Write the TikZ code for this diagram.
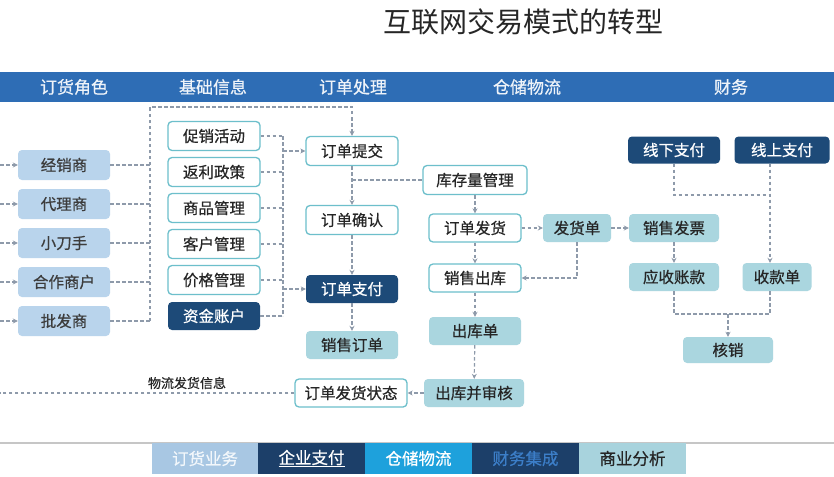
\documentclass[tikz,border=0pt]{standalone}
\usepackage{fontspec}
\setmainfont{Noto Sans CJK SC}[FakeBold=0.6]
\newfontfamily\plainfont{Noto Sans CJK SC}
\usetikzlibrary{arrows.meta}
\definecolor{hdr}{HTML}{2E6DB5}
\definecolor{rolefill}{HTML}{B9D4EC}
\definecolor{teal}{HTML}{6DBFCB}
\definecolor{navy}{HTML}{1D4A78}
\definecolor{tfill}{HTML}{AAD6DF}
\definecolor{dgray}{HTML}{8E9AAA}
\definecolor{txt}{HTML}{262626}
\definecolor{tabA}{HTML}{A8C7E3}
\definecolor{tabB}{HTML}{1C3F69}
\definecolor{tabC}{HTML}{1EA1DC}
\definecolor{tabE}{HTML}{A8D3DD}
\definecolor{tabDtxt}{HTML}{3C7EC8}
\begin{document}
\begin{tikzpicture}[x=1pt,y=-1pt,
  boxfont/.style={font=\fontsize{15.5}{17}\selectfont},
  base/.style={boxfont,inner sep=0pt,minimum height=30pt,text=txt},
  role/.style={base,fill=rolefill,rounded corners=4pt,minimum width=92pt,text=txt!90},
  wbox/.style={base,draw=teal,line width=1.3pt,fill=white,rounded corners=4pt,minimum width=92pt,minimum height=29pt},
  nbox/.style={base,fill=navy,text=white,rounded corners=4pt,minimum width=92pt,minimum height=28pt},
  tbox/.style={base,fill=tfill,rounded corners=4pt,minimum width=92pt,minimum height=28pt},
  hdrtxt/.style={font=\fontsize{17}{19}\selectfont,text=white!92!hdr},
  dl/.style={draw=dgray,line width=1.2pt,dash pattern=on 3.5pt off 2.5pt},
  arr/.style={dl,-{Stealth[length=5pt,width=5pt]}},
  tab/.style={font=\fontsize{16.5}{18}\selectfont,inner sep=0pt,outer sep=0pt,minimum height=31pt,minimum width=107pt}
]
\useasboundingbox (0,0) rectangle (834,476);
\fill[white] (0,0) rectangle (834,476);

% title
\node[text=txt,font=\plainfont\fontsize{28}{30}\selectfont] (title) at (523,22) {互联网交易模式的转型};

% header bar
\fill[hdr] (0,72) rectangle (834,102);
\node[hdrtxt] (h1) at (74,87) {订货角色};
\node[hdrtxt] (h2) at (213,87) {基础信息};
\node[hdrtxt] (h3) at (353,87) {订单处理};
\node[hdrtxt] (h4) at (527,87) {仓储物流};
\node[hdrtxt] (h5) at (731,87) {财务};

% roles
\node[role] (r1) at (64,165) {经销商};
\node[role] (r2) at (64,204) {代理商};
\node[role] (r3) at (64,243) {小刀手};
\node[role] (r4) at (64,282) {合作商户};
\node[role] (r5) at (64,321) {批发商};
\foreach \i/\y in {1/165,2/204,3/243,4/282,5/321}{
  \coordinate (L\i) at (0,\y);
}

% basic info
\node[wbox] (i1) at (214,136) {促销活动};
\node[wbox] (i2) at (214,172) {返利政策};
\node[wbox] (i3) at (214,208) {商品管理};
\node[wbox] (i4) at (214,244) {客户管理};
\node[wbox] (i5) at (214,280) {价格管理};
\node[nbox] (i6) at (214,316) {资金账户};

% order processing
\node[wbox] (o1) at (352,151) {订单提交};
\node[wbox] (o2) at (352,220) {订单确认};
\node[nbox] (o3) at (352,289) {订单支付};
\node[tbox] (o4) at (352,345) {销售订单};
\node[wbox,minimum width=112pt,minimum height=28pt] (o5) at (351,393) {订单发货状态};

% warehouse
\node[wbox,minimum width=104pt] (w1) at (475,180) {库存量管理};
\node[wbox,minimum height=28pt] (w2) at (475,228) {订单发货};
\node[wbox,minimum height=28pt] (w3) at (475,278) {销售出库};
\node[tbox] (w4) at (475,331) {出库单};
\node[tbox,minimum width=100pt] (w5) at (474,393) {出库并审核};

% finance
\node[tbox,minimum width=68pt] (f1) at (577,228) {发货单};
\node[tbox,minimum width=90pt] (f2) at (674,228) {销售发票};
\node[tbox,minimum width=90pt] (k1) at (674,277) {应收账款};
\node[tbox,minimum width=69pt] (k2) at (777,277) {收款单};
\node[tbox,minimum width=90pt,minimum height=26pt] (hx) at (728,350) {核销};
\node[nbox,minimum width=92pt,minimum height=27pt] (p1) at (674,150) {线下支付};
\node[nbox,minimum width=95pt,minimum height=27pt] (p2) at (782,150) {线上支付};

% connectors: roles
\coordinate (vlT) at (150,107);
\coordinate (vlB) at (150,321);
\foreach \i in {1,...,5}{
  \draw[arr] (L\i) -- (r\i.west);
  \draw[dl] (r\i.east) -- (r\i.east -| vlT);
}
\draw[arr] (vlB) -- (vlT) -| (o1.north);

% connectors: basic info
\coordinate (vrT) at (283,136);
\coordinate (vrB) at (283,316);
\foreach \i in {1,...,6}{
  \draw[dl] (i\i.east) -- (i\i.east -| vrT);
}
\draw[dl] (vrT) -- (vrB);
\draw[arr] (o1.west -| vrT) -- (o1.west);
\draw[arr] (o3.west -| vrT) -- (o3.west);

% order chain
\draw[arr] (o1) -- (o2);
\draw[arr] (o2) -- (o3);
\draw[arr] (o3) -- (o4);
\draw[dl] (o1.south |- w1) -- (w1.west);

% warehouse chain
\draw[arr] (w1) -- (w2);
\draw[arr] (w2) -- (w3);
\draw[arr] (w3) -- (w4);
\draw[arr] (w4) -- (w5);
\draw[arr] (w2) -- (f1);
\draw[arr] (f1) -- (f2);
\draw[arr] (f1.south) |- (w3.east);
\draw[arr] (w5.west) -- (o5.east);

% logistics info back to roles
\coordinate (L6) at (0,393);
\draw[dl] (o5.west) -- (L6);
\node[text=txt,font=\fontsize{13}{14}\selectfont,inner sep=1pt] (lbl) at (187,383) {物流发货信息};

% finance connectors
\coordinate (j1) at (770,195);
\coordinate (j3) at (770,314);
\coordinate (j2) at (728,314);
\draw[dl] (p1.south) |- (j1);
\draw[arr] (p2.south -| j1) -- (k2.north -| j1);
\draw[arr] (f2) -- (k1);
\draw[dl] (k1.south) |- (j3) -- (j3 |- k2.south);
\draw[arr] (j2) -- (hx.north);

% bottom tab bar
\draw[gray!45,line width=1.2pt] (0,443) -- (834,443);
\node[tab,fill=tabA,text=white!85!tabA] (b1) at (205,458.5) {订货业务};
\node[tab,fill=tabB,text=white] (b2) at (311.5,458.5) {\underline{企业支付}};
\node[tab,fill=tabC,text=white] (b3) at (418.5,458.5) {仓储物流};
\node[tab,fill=tabB,text=tabDtxt] (b4) at (525.5,458.5) {财务集成};
\node[tab,fill=tabE,text=txt] (b5) at (632.5,458.5) {商业分析};
\end{tikzpicture}
\end{document}
